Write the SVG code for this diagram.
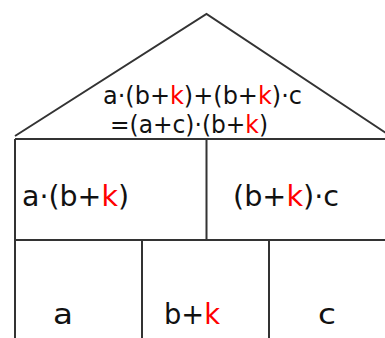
<svg xmlns="http://www.w3.org/2000/svg" width="385" height="338" viewBox="0 0 385 338">
<style>
.ln{stroke:#333;stroke-width:2;fill:none}
.t{font-family:"DejaVu Sans","Liberation Sans",sans-serif;fill:#111}
.r{fill:#f00}
</style>
<rect width="385" height="338" fill="#fff"/>
<g id="roof">
<path class="ln" d="M15,136 L206.5,14 L392,137"/>
<text class="t" x="103" y="104" font-size="24" textLength="199" lengthAdjust="spacingAndGlyphs">a·(b+<tspan class="r">k</tspan>)+(b+<tspan class="r">k</tspan>)·c</text>
<text class="t" x="110" y="133" font-size="24" textLength="158" lengthAdjust="spacingAndGlyphs">=(a+c)·(b+<tspan class="r">k</tspan>)</text>
</g>
<g id="walls">
<path class="ln" d="M15,139 H385 M15,139 V338 M15,240 H385 M206.5,139 V240 M142,240 V338 M269,240 V338"/>
</g>
<g id="cell-left">
<text class="t" x="22" y="206" font-size="28" textLength="107" lengthAdjust="spacingAndGlyphs">a·(b+<tspan class="r">k</tspan>)</text>
</g>
<g id="cell-right">
<text class="t" x="233" y="206" font-size="28" textLength="106" lengthAdjust="spacingAndGlyphs">(b+<tspan class="r">k</tspan>)·c</text>
</g>
<g id="cell-a">
<text class="t" x="53" y="324" font-size="29" textLength="20" lengthAdjust="spacingAndGlyphs">a</text>
</g>
<g id="cell-bk">
<text class="t" x="164" y="324" font-size="29" textLength="56" lengthAdjust="spacingAndGlyphs">b+<tspan class="r">k</tspan></text>
</g>
<g id="cell-c">
<text class="t" x="318" y="324" font-size="29" textLength="18" lengthAdjust="spacingAndGlyphs">c</text>
</g>
</svg>
